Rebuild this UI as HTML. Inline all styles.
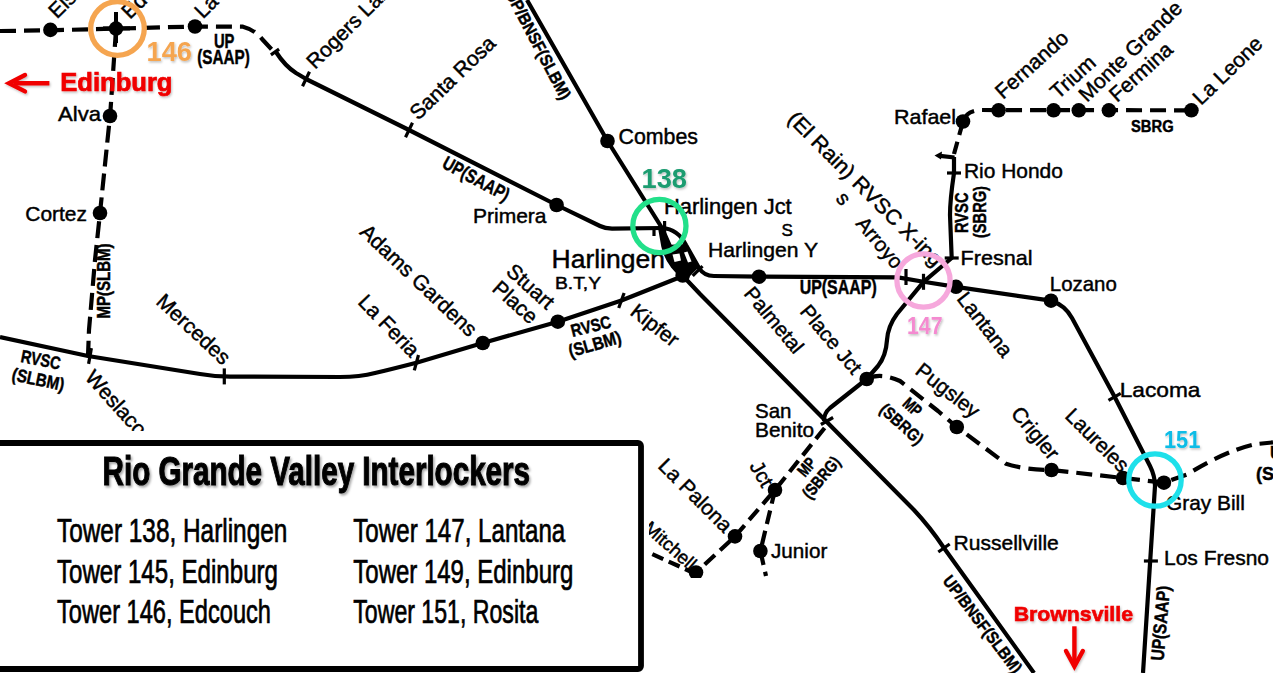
<!DOCTYPE html>
<html><head><meta charset="utf-8"><title>Rio Grande Valley Interlockers</title>
<style>
html,body{margin:0;padding:0;background:#fff;width:1273px;height:673px;overflow:hidden;}
svg{display:block;}
</style></head>
<body>
<svg width="1273" height="673" viewBox="0 0 1273 673">
<defs>
<filter id="sh" x="-20%" y="-20%" width="140%" height="140%"><feDropShadow dx="1" dy="1.5" stdDeviation="1" flood-color="#000" flood-opacity="0.25"/></filter>
<filter id="sh2" x="-5%" y="-20%" width="110%" height="140%"><feDropShadow dx="1.5" dy="2" stdDeviation="1.2" flood-color="#000" flood-opacity="0.35"/></filter>
</defs>
<rect width="1273" height="673" fill="#fff"/>
<g fill="none" stroke="#000" stroke-width="4.2" stroke-linejoin="round" stroke-linecap="butt">
<path d="M276,52 Q285,66 296,73 L307,79.5 L409,130 L556.6,205 L600,226 Q605,228.5 612,228.6 L662,228"/>
<path d="M662,228 Q678,229 686,245 L699,268 Q704,276 714,276 L759,276.7 L898,277.4 L923.5,281.8 L956,286.8 L1051,300.7 Q1065,305 1072,318 L1114.6,396.8 L1150,466 Q1155,476 1155,486 L1143,673"/>
<path d="M527,0 L607.5,141 L662,228 L683,276 L700,294 L914,510 Q930,527 944,548 L1034,673"/>
<path d="M683,276 L621.4,300.5 L557.8,321.7 L482.8,343 L416.4,362.7 Q390,369.5 375,373 Q360,377 340,377 L230,376.6 Q215,376.5 200,374 L88,356 L0,337"/>
<path d="M954,157 L954,173 Q950,200 950,215 L951.7,258 L923.5,281.8 L897,314 Q888,326 887,340 Q886,356 878,366 L866.7,379 L830,408 Q824,413 824,421"/>
<path d="M940,155.8 L954.5,157.5"/>
<path d="M0,31 L50,30.3 L116,28.6 L195,26.5 L243,26.7 Q255,30 262,39 L274,52" stroke-dasharray="16 8"/>
<path d="M116,30 L110.5,110 L110,116 L100,213 L95,260 L89,330 L88,356" stroke-dasharray="17 7"/>
<path d="M963,121.5 Q966,111 980,110 L1191.4,110.3" stroke-dasharray="16 8"/>
<path d="M963,121.5 L954,154" stroke-dasharray="14 7"/>
<path d="M866.7,379 Q880,372 900,381 L938,411 L956.8,427 L1006,463.7 Q1025,470 1051.5,470 L1123,478 L1163.9,482.7 L1187,474.5 Q1225,451 1255,444.2 L1273,442.4" stroke-dasharray="16 8"/>
<path d="M824.6,428 L775,490 L735,536.4 L696,572.5" stroke-dasharray="14 7"/>
<path d="M775,490 L760.4,551 L766,576" stroke-dasharray="14 7"/>
<path d="M696,574 L650,553" stroke-dasharray="12 6"/>
</g>
<path d="M934.5,155.5 L942,151.5 L941,159.5 Z" fill="#000"/>
<path d="M661.3,228 L664.5,246 Q667,257 674,266 L683,276" fill="none" stroke="#000" stroke-width="6.5"/>
<path d="M666,245 L685,244 L692,257 L699,267 L685,281 L673,268 L667,256 Z" fill="#000"/>
<path d="M672.5,254.5 L679.5,253.5 L681,260.5 L674.5,262 Z" fill="#fff"/>
<path d="M684,252.5 L687.5,251.5 L691.5,261.5 L688,262.5 Z" fill="#fff"/>
<g fill="#000">
<circle cx="50.4" cy="29.9" r="7.3"/>
<circle cx="195" cy="26.5" r="7.3"/>
<circle cx="110" cy="116" r="7.3"/>
<circle cx="100" cy="213" r="7.3"/>
<circle cx="607.5" cy="141" r="7.3"/>
<circle cx="556.6" cy="205" r="7.3"/>
<circle cx="759" cy="276.7" r="7.3"/>
<circle cx="956" cy="286.8" r="7.3"/>
<circle cx="1051" cy="300.7" r="7.3"/>
<circle cx="866.7" cy="379" r="7.3"/>
<circle cx="956.8" cy="427" r="7.3"/>
<circle cx="1051.5" cy="470" r="7.3"/>
<circle cx="1123" cy="478" r="7.3"/>
<circle cx="1163.9" cy="482.7" r="7.3"/>
<circle cx="482.8" cy="343" r="7.3"/>
<circle cx="557.8" cy="321.7" r="7.3"/>
<circle cx="963" cy="121.5" r="7.3"/>
<circle cx="998.6" cy="110.3" r="7.3"/>
<circle cx="1053.6" cy="110.3" r="7.3"/>
<circle cx="1078.8" cy="110.3" r="7.3"/>
<circle cx="1108.9" cy="110.3" r="7.3"/>
<circle cx="1191.4" cy="110.3" r="7.3"/>
<circle cx="775" cy="490" r="7.3"/>
<circle cx="735" cy="536.4" r="7.3"/>
<circle cx="696" cy="572.5" r="7.3"/>
<circle cx="760.4" cy="551" r="7.3"/>
<circle cx="116" cy="28.6" r="7.3"/>
<circle cx="682.7" cy="275.5" r="7.3"/>
</g>
<g stroke="#000" stroke-width="3.2" fill="none">
<line x1="302.5" y1="86.2" x2="309.5" y2="71.8"/>
<line x1="405.5" y1="137.2" x2="412.5" y2="122.8"/>
<line x1="224.3" y1="368.4" x2="224.3" y2="384.4"/>
<line x1="414.3" y1="370.4" x2="418.5" y2="355.0"/>
<line x1="88.6" y1="363.9" x2="91.4" y2="348.1"/>
<line x1="618.7" y1="308.0" x2="624.1" y2="293.0"/>
<line x1="947.0" y1="173.0" x2="961.0" y2="173.0"/>
<line x1="944.7" y1="258.0" x2="958.7" y2="258.0"/>
<line x1="1108.5" y1="400.3" x2="1120.7" y2="393.3"/>
<line x1="1143.9" y1="561.0" x2="1157.9" y2="561.0"/>
<line x1="938.3" y1="552.0" x2="949.7" y2="544.0"/>
<line x1="906.0" y1="269.0" x2="906.0" y2="285.0"/>
<line x1="923.5" y1="273.8" x2="923.5" y2="289.8"/>
<line x1="664.6" y1="221.0" x2="664.6" y2="235.0"/>
<line x1="654.0" y1="228.0" x2="654.0" y2="236.0"/>
<line x1="692.7" y1="275.9" x2="702.5" y2="266.1"/>
<line x1="820.9" y1="424.5" x2="833.1" y2="417.5"/>
<line x1="270.9" y1="54.9" x2="279.1" y2="49.1"/>
<line x1="116" y1="12" x2="116" y2="43" stroke-width="4"/>
<line x1="103" y1="28.4" x2="130" y2="28.4" stroke-width="4"/>
</g>
<g font-family="Liberation Sans, sans-serif" fill="#000" stroke="#000" stroke-width="0.45">
<text x="58" y="121" font-size="21" textLength="43" lengthAdjust="spacingAndGlyphs">Alva</text>
<text x="25.3" y="221" font-size="21" textLength="61.7" lengthAdjust="spacingAndGlyphs">Cortez</text>
<text x="618.5" y="144.3" font-size="21.5" textLength="79.5" lengthAdjust="spacingAndGlyphs">Combes</text>
<text x="473" y="222.5" font-size="21" textLength="73.5" lengthAdjust="spacingAndGlyphs">Primera</text>
<text x="551.5" y="267.5" font-size="26" textLength="113.5" lengthAdjust="spacingAndGlyphs">Harlingen</text>
<text x="555" y="289" font-size="16" textLength="46" lengthAdjust="spacingAndGlyphs">B.T,Y</text>
<text x="664" y="214.3" font-size="21.5" textLength="127.7" lengthAdjust="spacingAndGlyphs">Harlingen Jct</text>
<text x="781.6" y="235.8" font-size="17">S</text>
<text x="708" y="257" font-size="21" textLength="110" lengthAdjust="spacingAndGlyphs">Harlingen Y</text>
<text x="894" y="124" font-size="21" textLength="62" lengthAdjust="spacingAndGlyphs">Rafael</text>
<text x="964" y="178.3" font-size="21" textLength="98.8" lengthAdjust="spacingAndGlyphs">Rio Hondo</text>
<text x="960.5" y="265.4" font-size="21" textLength="72" lengthAdjust="spacingAndGlyphs">Fresnal</text>
<text x="1049.8" y="290.6" font-size="21" textLength="67" lengthAdjust="spacingAndGlyphs">Lozano</text>
<text x="1119.7" y="396.8" font-size="21" textLength="80.8" lengthAdjust="spacingAndGlyphs">Lacoma</text>
<text x="1166" y="510" font-size="21" textLength="78.8" lengthAdjust="spacingAndGlyphs">Gray Bill</text>
<text x="1164" y="564.7" font-size="21" textLength="105" lengthAdjust="spacingAndGlyphs">Los Fresno</text>
<text x="953.5" y="549.7" font-size="21" textLength="105.3" lengthAdjust="spacingAndGlyphs">Russellville</text>
<text x="755" y="417.7" font-size="21" textLength="36.5" lengthAdjust="spacingAndGlyphs">San</text>
<text x="755" y="436.7" font-size="21" textLength="59" lengthAdjust="spacingAndGlyphs">Benito</text>
<text x="771" y="557.8" font-size="21" textLength="56.3" lengthAdjust="spacingAndGlyphs">Junior</text>
<text x="213.9" y="47.6" font-size="19.5" font-weight="700" textLength="20.5" lengthAdjust="spacingAndGlyphs">UP</text>
<text x="197.2" y="64.3" font-size="19.5" font-weight="700" textLength="52.6" lengthAdjust="spacingAndGlyphs">(SAAP)</text>
<text x="799.7" y="294" font-size="19.5" font-weight="700" textLength="77" lengthAdjust="spacingAndGlyphs">UP(SAAP)</text>
<text x="1131" y="131.5" font-size="16" font-weight="700" textLength="42.6" lengthAdjust="spacingAndGlyphs">SBRG</text>
<text transform="translate(57,19.5) rotate(-45)" font-size="21">Elsa</text>
<text transform="translate(130,20) rotate(-45)" font-size="21">Edcouch</text>
<text transform="translate(203,19.5) rotate(-45)" font-size="21">La Villa</text>
<text transform="translate(315,70) rotate(-45)" font-size="21">Rogers Lake</text>
<text transform="translate(418,121) rotate(-44)" font-size="21">Santa Rosa</text>
<text transform="translate(1003,100) rotate(-42)" font-size="21">Fernando</text>
<text transform="translate(1058,100) rotate(-42)" font-size="21">Trium</text>
<text transform="translate(1087,103) rotate(-44)" font-size="21">Monte Grande</text>
<text transform="translate(1117,103) rotate(-42)" font-size="21">Fermina</text>
<text transform="translate(1201,106) rotate(-44)" font-size="21">La Leone</text>
<text transform="translate(155,303) rotate(43)" font-size="21">Mercedes</text>
<text transform="translate(358.7,233.3) rotate(43.5)" font-size="21">Adams Gardens</text>
<text transform="translate(357,303) rotate(46)" font-size="21">La Feria</text>
<text transform="translate(505,273) rotate(42)" font-size="21">Stuart</text>
<text transform="translate(491,290) rotate(42)" font-size="21">Place</text>
<text transform="translate(629,314) rotate(38)" font-size="21">Kipfer</text>
<text transform="translate(84,378) rotate(48)" font-size="21">Weslaco</text>
<text transform="translate(743,294) rotate(50)" font-size="20.5">Palmetal</text>
<text transform="translate(799,312) rotate(50)" font-size="20.5">Place Jct</text>
<text transform="translate(956,299) rotate(52)" font-size="21">Lantana</text>
<text transform="translate(914,373) rotate(38)" font-size="21">Pugsley</text>
<text transform="translate(1010,414) rotate(50)" font-size="21">Crigler</text>
<text transform="translate(1064,417) rotate(45)" font-size="21" textLength="80" lengthAdjust="spacingAndGlyphs">Laureles</text>
<text transform="translate(657,467) rotate(45)" font-size="21">La Palona</text>
<text transform="translate(749,466) rotate(60)" font-size="20.5">Jct</text>
<text transform="translate(786.5,120) rotate(45)" font-size="21" textLength="209" lengthAdjust="spacingAndGlyphs">(El Rain) RVSC X-ing</text>
<text transform="translate(835,199) rotate(50)" font-size="20.5">s</text>
<text transform="translate(855,224) rotate(50)" font-size="20.5">Arroyo</text>
<text transform="translate(505,-6) rotate(62.3)" font-size="17" font-weight="700" textLength="121" lengthAdjust="spacingAndGlyphs">UP/BNSF(SLBM)</text>
<text transform="translate(942,581) rotate(52.6)" font-size="17" font-weight="700" textLength="118" lengthAdjust="spacingAndGlyphs">UP/BNSF(SLBM)</text>
<text transform="translate(441,167) rotate(28.5)" font-size="19" font-weight="700" textLength="73" lengthAdjust="spacingAndGlyphs">UP(SAAP)</text>
<text transform="translate(20,362) rotate(11)" font-size="18" font-weight="700" textLength="40" lengthAdjust="spacingAndGlyphs">RVSC</text>
<text transform="translate(11,380) rotate(12)" font-size="18" font-weight="700" textLength="53" lengthAdjust="spacingAndGlyphs">(SLBM)</text>
<text transform="translate(572.5,337) rotate(-14)" font-size="17.5" font-weight="700" textLength="41" lengthAdjust="spacingAndGlyphs">RVSC</text>
<text transform="translate(570.5,357.5) rotate(-16)" font-size="18" font-weight="700" textLength="54" lengthAdjust="spacingAndGlyphs">(SLBM)</text>
<text transform="translate(805,478) rotate(-50)" font-size="17" font-weight="700" textLength="19" lengthAdjust="spacingAndGlyphs">MP</text>
<text transform="translate(810,500) rotate(-50)" font-size="17" font-weight="700" textLength="49" lengthAdjust="spacingAndGlyphs">(SBRG)</text>
<text transform="translate(901.5,405) rotate(42)" font-size="17" font-weight="700" textLength="19" lengthAdjust="spacingAndGlyphs">MP</text>
<text transform="translate(878.5,411) rotate(42)" font-size="17" font-weight="700" textLength="52" lengthAdjust="spacingAndGlyphs">(SBRG)</text>
<text transform="translate(109.5,318.5) rotate(-90)" font-size="18.5" font-weight="700" textLength="75" lengthAdjust="spacingAndGlyphs">MP(SLBM)</text>
<text transform="translate(968,233) rotate(-90)" font-size="18" font-weight="700" textLength="40.5" lengthAdjust="spacingAndGlyphs">RVSC</text>
<text transform="translate(985.7,238) rotate(-90)" font-size="19" font-weight="700" textLength="52" lengthAdjust="spacingAndGlyphs">(SBRG)</text>
<text transform="translate(1163.5,661) rotate(-85)" font-size="18.5" font-weight="700" textLength="75" lengthAdjust="spacingAndGlyphs">UP(SAAP)</text>
<text x="1256" y="480" font-size="18" font-weight="700">(SI</text>
<text x="1270" y="459" font-size="18" font-weight="700">UP</text>
</g>
<circle cx="117.5" cy="28.5" r="26.8" fill="none" stroke="#f5a550" stroke-width="5.3"/>
<circle cx="659.4" cy="226" r="26.6" fill="none" stroke="#22e08a" stroke-width="5.3"/>
<circle cx="923.5" cy="280.5" r="26.6" fill="none" stroke="#f6a8dc" stroke-width="5.3"/>
<circle cx="1155" cy="480" r="26.2" fill="none" stroke="#1ee0ea" stroke-width="5.3"/>
<g font-family="Liberation Sans, sans-serif" font-weight="700">
<text x="146.5" y="60.8" font-size="27" textLength="45.5" lengthAdjust="spacingAndGlyphs" fill="#f5a550" filter="url(#sh)">146</text>
<text x="641.5" y="188.4" font-size="27" textLength="45.4" lengthAdjust="spacingAndGlyphs" fill="#1a9c70" filter="url(#sh)">138</text>
<text x="907" y="333.6" font-size="24" textLength="35.5" lengthAdjust="spacingAndGlyphs" fill="#f48ad0" filter="url(#sh)">147</text>
<text x="1164" y="447.5" font-size="24" textLength="36.3" lengthAdjust="spacingAndGlyphs" fill="#08bce6" filter="url(#sh)">151</text>
<text x="60.2" y="91" font-size="26" textLength="112.3" lengthAdjust="spacingAndGlyphs" fill="#f00000" stroke="#f00000" stroke-width="0.7" filter="url(#sh)">Edinburg</text>
<text x="1013.7" y="621" font-size="20.5" textLength="119.3" lengthAdjust="spacingAndGlyphs" fill="#f00000" stroke="#f00000" stroke-width="0.6" filter="url(#sh)">Brownsville</text>
</g>
<g stroke="#f00000" stroke-width="4.4" fill="none" stroke-linecap="butt" stroke-linejoin="miter" filter="url(#sh)">
<path d="M49.4,83.2 L14,83.2"/>
<path d="M25,75 L9,83.2 L25,91.4" stroke-linecap="round"/>
<path d="M1074.4,626.3 L1074.4,663"/>
<path d="M1066,651 L1074.4,666.5 L1082.8,651" stroke-linecap="round"/>
</g>
<text transform="translate(642.5,529.5) rotate(41.5)" font-family="Liberation Sans, sans-serif" font-size="18.5" fill="#000" stroke="#000" stroke-width="0.45">Mitchell</text>
<rect x="-10" y="431" width="659" height="250" fill="#fff"/>
<rect x="640" y="578" width="295" height="100" fill="#fff"/>
<rect x="-10" y="443" width="651" height="226" rx="3" fill="#fff" stroke="#000" stroke-width="5.8"/>
<g font-family="Liberation Sans, sans-serif">
<text x="102.6" y="484.8" font-size="41" font-weight="700" textLength="427.4" lengthAdjust="spacingAndGlyphs" fill="#000" stroke="#000" stroke-width="1.1" filter="url(#sh2)">Rio Grande Valley Interlockers</text>
<text x="57" y="541.8" font-size="32.5" textLength="230.3" lengthAdjust="spacingAndGlyphs" fill="#000" stroke="#000" stroke-width="0.7">Tower 138, Harlingen</text>
<text x="57" y="583" font-size="32.5" textLength="221" lengthAdjust="spacingAndGlyphs" fill="#000" stroke="#000" stroke-width="0.7">Tower 145, Edinburg</text>
<text x="57" y="622.5" font-size="32.5" textLength="214" lengthAdjust="spacingAndGlyphs" fill="#000" stroke="#000" stroke-width="0.7">Tower 146, Edcouch</text>
<text x="353.3" y="541.8" font-size="32.5" textLength="212" lengthAdjust="spacingAndGlyphs" fill="#000" stroke="#000" stroke-width="0.7">Tower 147, Lantana</text>
<text x="353.3" y="583" font-size="32.5" textLength="220" lengthAdjust="spacingAndGlyphs" fill="#000" stroke="#000" stroke-width="0.7">Tower 149, Edinburg</text>
<text x="353.3" y="622.5" font-size="32.5" textLength="185" lengthAdjust="spacingAndGlyphs" fill="#000" stroke="#000" stroke-width="0.7">Tower 151, Rosita</text>
</g>
</svg>
</body></html>
